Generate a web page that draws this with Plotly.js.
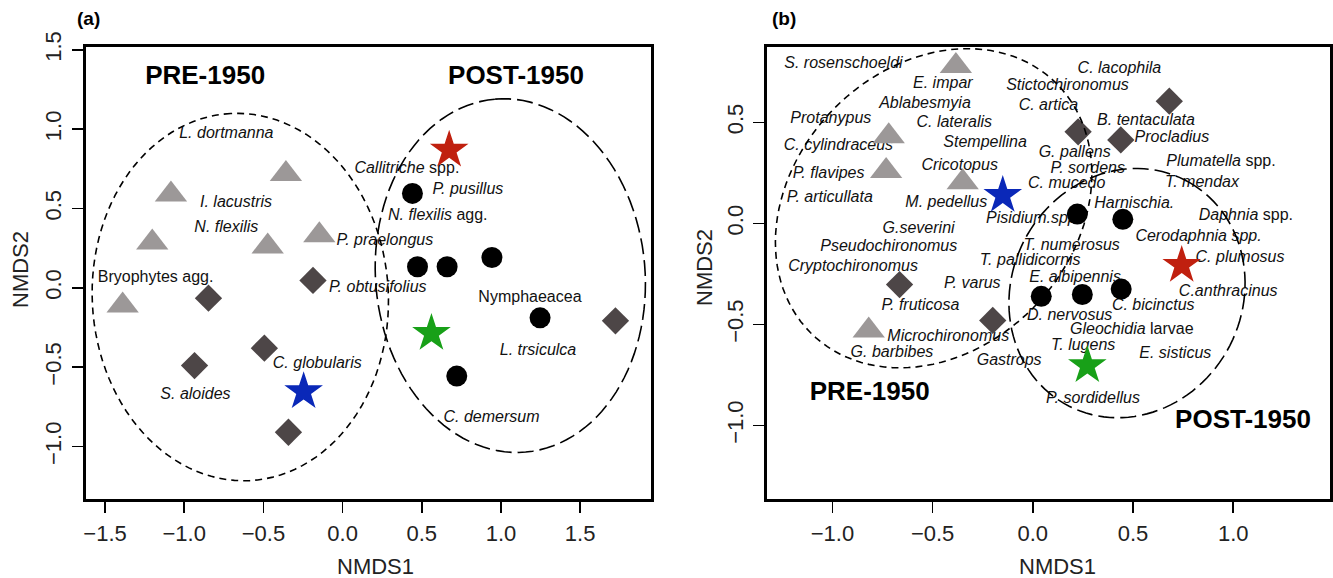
<!DOCTYPE html>
<html>
<head>
<meta charset="utf-8">
<script src="https://cdn.plot.ly/plotly-3.0.1.min.js"></script>
<style>html,body{margin:0;padding:0;background:#fff;}#chart{width:1333px;height:578px;}</style>
</head>
<body>
<div id="chart"></div>
<script>
// ---------- Panel (a) data ----------
const aTriX = [-1.084, -0.358, -1.202, -0.473, -0.147, -1.389];
const aTriY = [0.588, 0.717, 0.285, 0.261, 0.331, -0.112];
const aDiaX = [-0.187, -0.847, -0.494, -0.935, -0.342, 1.723];
const aDiaY = [0.047, -0.065, -0.380, -0.490, -0.910, -0.208];
const aCirX = [0.441, 0.473, 0.660, 0.943, 1.247, 0.721];
const aCirY = [0.595, 0.133, 0.133, 0.191, -0.189, -0.556];
const aStarX = [0.673, 0.561, -0.246];
const aStarY = [0.868, -0.287, -0.654];
const starColors = ['#c0200f', '#18a018', '#0a28b8'];
const aLabels = ['<i>L. dortmanna</i>', '<i>I. lacustris</i>', '<i>N. flexilis</i>', 'Bryophytes agg.',
  '<i>P. praelongus</i>', '<i>P. obtusifolius</i>', '<i>Callitriche</i> spp.', '<i>P. pusillus</i>',
  '<i>N. flexilis</i> agg.', 'Nymphaeacea', '<i>L. trsiculca</i>', '<i>C. globularis</i>',
  '<i>S. aloides</i>', '<i>C. demersum</i>'];
const aLabX = [-0.734, -0.673, -0.734, -1.181, 0.267, 0.222, 0.406, 0.791, 0.601, 1.183, 1.234, -0.160, -0.929, 0.940];
const aLabY = [0.969, 0.537, 0.380, 0.063, 0.294, 0.0, 0.747, 0.619, 0.455, -0.063, -0.397, -0.479, -0.675, -0.817];
const aGroups = ['PRE-1950', 'POST-1950'];
const aGroupX = [-0.868, 1.095];
const aGroupY = [1.328, 1.328];
// ellipses: [cx, cy, semi-major, semi-minor, angle deg]
const aEllPre = [-0.646, -0.058, 1.158, 0.935, 93];
const aEllPost = [1.059, 0.077, 1.116, 0.851, 95];

// ---------- Panel (b) data ----------
const bTriX = [-0.384, -0.719, -0.732, -0.350, -0.819];
const bTriY = [0.779, 0.431, 0.259, 0.204, -0.530];
const bDiaX = [0.681, 0.226, 0.439, -0.665, -0.200];
const bDiaY = [0.605, 0.453, 0.413, -0.303, -0.480];
const bCirX = [0.222, 0.449, 0.042, 0.247, 0.441];
const bCirY = [0.046, 0.020, -0.361, -0.352, -0.325];
const bStarX = [0.743, 0.272, -0.150];
const bStarY = [-0.207, -0.704, 0.139];
const bLabels = ['<i>S. rosenschoeldi</i>', '<i>E. impar</i>', '<i>Ablabesmyia</i>', '<i>Protanypus</i>',
  '<i>C. lateralis</i>', '<i>C. cylindraceus</i>', '<i>Stempellina</i>', '<i>Stictochironomus</i>',
  '<i>C. lacophila</i>', '<i>C. artica</i>', '<i>B. tentaculata</i>', '<i>Procladius</i>',
  '<i>G. pallens</i>', '<i>P. sordens</i>', '<i>Plumatella</i> spp.', '<i>T. mendax</i>',
  '<i>C. mucedo</i>', '<i>Cricotopus</i>', '<i>P. flavipes</i>', '<i>P. articullata</i>',
  '<i>M. pedellus</i>', '<i>Harnischia.</i>', '<i>Pisidium.spp.</i>', '<i>Daphnia</i> spp.',
  '<i>G.severini</i>', '<i>Cerodaphnia spp.</i>', '<i>T. numerosus</i>', '<i>Pseudochironomus</i>',
  '<i>C. plumosus</i>', '<i>T. pallidicornis</i>', '<i>Cryptochironomus</i>', '<i>E. albipennis</i>',
  '<i>P. varus</i>', '<i>C.anthracinus</i>', '<i>C. bicinctus</i>', '<i>P. fruticosa</i>',
  '<i>D. nervosus</i>', '<i>Gleochidia</i> larvae', '<i>Microchironomus</i>', '<i>T. lugens</i>',
  '<i>G. barbibes</i>', '<i>E. sisticus</i>', '<i>Gastrops</i>', '<i>P. sordidellus</i>'];
const bLabX = [-0.945, -0.449, -0.538, -1.008, -0.392, -0.970, -0.238, 0.173, 0.432, 0.078, 0.565, 0.694,
  0.209, 0.274, 0.939, 0.844, 0.169, -0.365, -1.019, -1.013, -0.432, 0.506, 0.004, 1.063,
  -0.570, 0.827, 0.194, -0.719, 1.034, -0.013, -0.897, 0.211, -0.302, 0.975, 0.601, -0.561,
  0.184, 0.494, -0.422, 0.251, -0.703, 0.711, -0.118, 0.300];
const bLabY = [0.789, 0.690, 0.589, 0.519, 0.497, 0.381, 0.396, 0.679, 0.765, 0.580, 0.506, 0.422,
  0.348, 0.268, 0.303, 0.198, 0.193, 0.286, 0.244, 0.128, 0.103, 0.097, 0.024, 0.037,
  -0.026, -0.068, -0.110, -0.119, -0.172, -0.187, -0.218, -0.270, -0.301, -0.339, -0.407, -0.407,
  -0.458, -0.528, -0.563, -0.606, -0.640, -0.646, -0.679, -0.869];
const bGroups = ['PRE-1950', 'POST-1950'];
const bGroupX = [-0.814, 1.049];
const bGroupY = [-0.842, -0.979];
const bEllPre = [-0.495, 0.075, 0.87, 0.70, 45];
const bEllPost = [0.47, -0.345, 0.63, 0.575, 60];

const tickA_x = [-1.5, -1.0, -0.5, 0.0, 0.5, 1.0, 1.5];
const tickA_y = [-1.0, -0.5, 0.0, 0.5, 1.0, 1.5];
const tickB_x = [-1.0, -0.5, 0.0, 0.5, 1.0];
const tickB_y = [-1.0, -0.5, 0.0, 0.5];

// ---------- styling ----------
const FONT = 'Liberation Sans, Arial, Helvetica, sans-serif';
const TRI = '#9c9898', DIA = '#4d4647', CIR = '#000000';

function ellipsePath(p) {
  const [cx, cy, A, B, ang] = p;
  const t = ang * Math.PI / 180;
  let s = '';
  for (let i = 0; i <= 120; i++) {
    const th = 2 * Math.PI * i / 120;
    const u = A * Math.cos(th), v = B * Math.sin(th);
    const x = cx + u * Math.cos(t) - v * Math.sin(t);
    const y = cy + u * Math.sin(t) + v * Math.cos(t);
    s += (i === 0 ? 'M' : 'L') + x.toFixed(4) + ',' + y.toFixed(4);
  }
  return s + 'Z';
}

function panelTraces(xa, ya, tri, dia, cir, star, lab, grp, starSize) {
  const t = [];
  t.push({x: lab[0], y: lab[1], text: lab[2], mode: 'text', type: 'scatter', xaxis: xa, yaxis: ya,
    textposition: 'middle center', textfont: {family: FONT, size: 16, color: '#111'}, hoverinfo: 'skip'});
  t.push({x: grp[0], y: grp[1], text: grp[2], mode: 'text', type: 'scatter', xaxis: xa, yaxis: ya,
    textposition: 'middle center', textfont: {family: FONT, size: 26, color: '#000', weight: 'bold'}, hoverinfo: 'skip'});
  t.push({x: tri[0], y: tri[1], mode: 'markers', type: 'scatter', xaxis: xa, yaxis: ya,
    marker: {symbol: 'triangle-up', size: 28, color: TRI, line: {width: 0}}});
  t.push({x: dia[0], y: dia[1], mode: 'markers', type: 'scatter', xaxis: xa, yaxis: ya,
    marker: {symbol: 'diamond', size: 21, color: DIA, line: {width: 0}}});
  t.push({x: cir[0], y: cir[1], mode: 'markers', type: 'scatter', xaxis: xa, yaxis: ya,
    marker: {symbol: 'circle', size: 21, color: CIR, line: {width: 0}}});
  t.push({x: star[0], y: star[1], mode: 'markers', type: 'scatter', xaxis: xa, yaxis: ya,
    marker: {symbol: 'star', size: starSize, color: starColors, line: {width: 0}}});
  return t;
}

const traces = [].concat(
  panelTraces('x', 'y', [aTriX, aTriY], [aDiaX, aDiaY], [aCirX, aCirY], [aStarX, aStarY],
    [aLabX, aLabY, aLabels], [aGroupX, aGroupY, aGroups], 29),
  panelTraces('x2', 'y2', [bTriX, bTriY], [bDiaX, bDiaY], [bCirX, bCirY], [bStarX, bStarY],
    [bLabX, bLabY, bLabels], [bGroupX, bGroupY, bGroups], 29)
);

function axis(domain, range, ticks, anchor, isY) {
  return {
    domain: domain, range: range, anchor: anchor, tickmode: 'array', tickvals: ticks,
    ticktext: ticks.map(v => v.toFixed(1).replace('-', '\u2212')),
    ticks: 'outside', ticklen: 11, tickwidth: 1.5, tickcolor: '#000',
    tickfont: {family: FONT, size: 22, color: '#222'},
    ticklabelstandoff: isY ? 2 : 1,
    showline: true, linewidth: 3, linecolor: '#000', mirror: true,
    showgrid: false, zeroline: false, tickangle: isY ? -90 : 0, fixedrange: true
  };
}

function ann(text, px, py, size, angle) {
  return {text: text, xref: 'paper', yref: 'paper', x: px / 1333, y: 1 - py / 578,
    xanchor: 'center', yanchor: 'middle', showarrow: false, textangle: angle || 0,
    font: {family: FONT, size: size, color: '#222'}};
}

const layout = {
  width: 1333, height: 578, margin: {l: 0, r: 0, t: 0, b: 0},
  paper_bgcolor: '#fff', plot_bgcolor: '#fff', showlegend: false,
  font: {family: FONT},
  xaxis: axis([85.9 / 1333, 651.4 / 1333], [-1.621, 1.950], tickA_x, 'y', false),
  yaxis: axis([1 - 499.4 / 578, 1 - 47.4 / 578], [-1.333, 1.515], tickA_y, 'x', true),
  xaxis2: axis([767.3 / 1333, 1329.6 / 1333], [-1.325, 1.481], tickB_x, 'y2', false),
  yaxis2: axis([1 - 499.4 / 578, 1 - 47.4 / 578], [-1.366, 0.871], tickB_y, 'x2', true),
  shapes: [
    {type: 'path', xref: 'x', yref: 'y', path: ellipsePath(aEllPre), line: {color: '#000', width: 1.6, dash: '7px,5px'}, layer: 'above'},
    {type: 'path', xref: 'x', yref: 'y', path: ellipsePath(aEllPost), line: {color: '#000', width: 1.6, dash: '16px,6px'}, layer: 'above'},
    {type: 'path', xref: 'x2', yref: 'y2', path: ellipsePath(bEllPre), line: {color: '#000', width: 1.6, dash: '7px,5px'}, layer: 'above'},
    {type: 'path', xref: 'x2', yref: 'y2', path: ellipsePath(bEllPost), line: {color: '#000', width: 1.6, dash: '16px,6px'}, layer: 'above'}
  ],
  annotations: [
    ann('<b>(a)</b>', 88, 18, 19),
    ann('<b>(b)</b>', 784, 18, 19),
    ann('NMDS1', 376, 566, 22),
    ann('NMDS1', 1057, 566, 22),
    ann('NMDS2', 20, 270, 22, -90),
    ann('NMDS2', 704, 268, 22, -90)
  ]
};
layout.annotations[0].font.color = '#000';
layout.annotations[1].font.color = '#000';

Plotly.newPlot('chart', traces, layout, {staticPlot: true, displayModeBar: false});
</script>
</body>
</html>
